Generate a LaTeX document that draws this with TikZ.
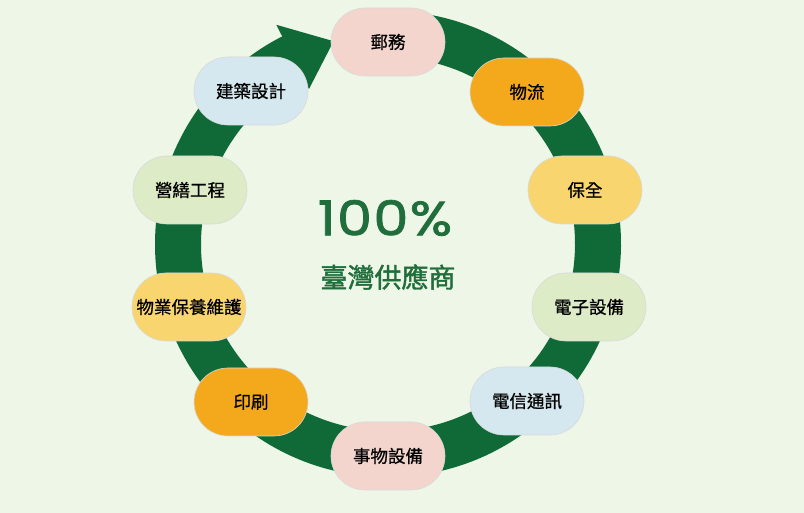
\documentclass[tikz,border=0pt]{standalone}
\usepackage{fontspec}
\setmainfont{Noto Sans CJK TC}
\newfontfamily\pop{Poppins}[FakeBold=1.6,FakeStretch=1.16,LetterSpace=3]
\newfontfamily\nodefont{Noto Sans CJK TC}[FakeBold=0.8]
\newfontfamily\midfont{Noto Sans CJK TC}[FakeBold=1.6]
\definecolor{bgc}{HTML}{EEF6E7}
\definecolor{ringc}{HTML}{0F6A37}
\definecolor{txtg}{HTML}{1F6E3B}
\definecolor{cpink}{HTML}{F4D5CD}
\definecolor{corange}{HTML}{F4A81C}
\definecolor{cyellow}{HTML}{F8D56F}
\definecolor{cgreen}{HTML}{DDEBC6}
\definecolor{cblue}{HTML}{D5E7EF}
\begin{document}
\begin{tikzpicture}[x=1pt,y=1pt,
  pill/.style={rounded corners=34pt, minimum width=114pt, minimum height=68pt,
    draw=black!15, line width=0.6pt, inner sep=0pt, text=black,
    font=\nodefont\fontsize{17.5}{20}\selectfont}]
\fill[bgc] (0,0) rectangle (804,513);
\useasboundingbox (0,0) rectangle (804,513);
% ring
\draw[ringc, line width=46pt] (388,269) ++(85:210) arc[start angle=85, end angle=-244, radius=210];
\coordinate (ao) at (276.3,488.2);
\coordinate (at) at (333.6,471.8);
\coordinate (ai) at (309.0,424.0);
\fill[ringc] (ao) -- (at) -- (ai) -- cycle;
% nodes
\node[pill, fill=cpink]   (n1)  at (388,471) {郵務};
\node[pill, fill=corange] (n2)  at (527,421) {物流};
\node[pill, fill=cyellow] (n3)  at (585,323) {保全};
\node[pill, fill=cgreen]  (n4)  at (589,206) {電子設備};
\node[pill, fill=cblue]   (n5)  at (527,112) {電信通訊};
\node[pill, fill=cpink]   (n6)  at (388,57)  {事物設備};
\node[pill, fill=corange] (n7)  at (251,111) {印刷};
\node[pill, fill=cyellow] (n8)  at (189,206) {物業保養維護};
\node[pill, fill=cgreen]  (n9)  at (190,323) {營繕工程};
\node[pill, fill=cblue]   (n10) at (251,422) {建築設計};
% center
\node[text=txtg, font=\pop\fontsize{48}{50}\selectfont] (pct) at (385,295) {100\%};
\node[text=txtg, font=\midfont\fontsize{27}{30}\selectfont] (sup) at (388,236) {臺灣供應商};
\end{tikzpicture}
\end{document}
